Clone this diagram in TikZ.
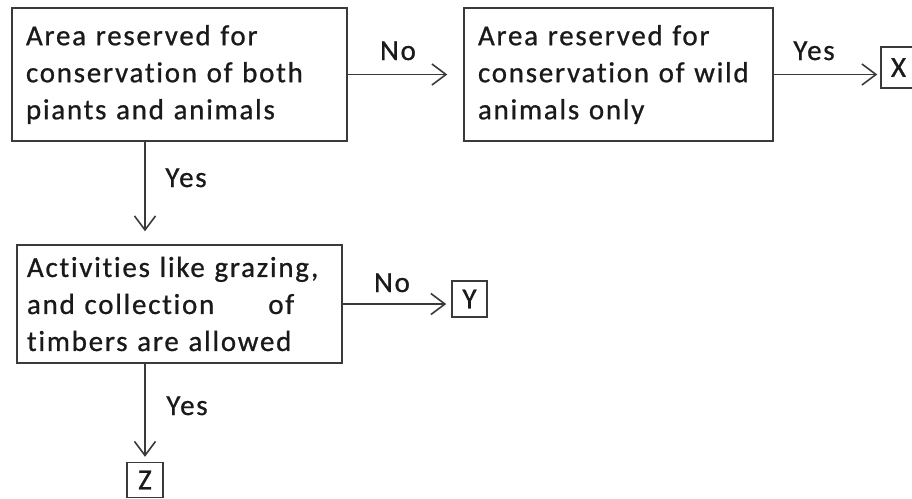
\documentclass[tikz,border=0pt]{standalone}
\usepackage{fontspec}
\setmainfont{Carlito}[LetterSpace=6, FakeBold=0.8, Ligatures=NoCommon]
\usetikzlibrary{arrows.meta}
\definecolor{ln}{HTML}{3A3A3A}
\definecolor{tx}{HTML}{1A1A1A}
\tikzset{
  box/.style={draw=ln, line width=1.5pt, text=tx, align=left, anchor=center,
    font=\fontsize{29}{37}\selectfont, inner ysep=0pt},
  letterbox/.style={draw=ln, line width=1.5pt, text=tx, inner sep=0pt,
    font=\fontsize{29}{30}\selectfont},
  lbl/.style={text=tx, anchor=base, inner sep=0pt, font=\fontsize{29}{30}\selectfont},
  arr/.style={draw=ln, line width=1.5pt, -{Straight Barb[length=14pt,width=21pt,line width=1.6pt]}}
}
\begin{document}
\begin{tikzpicture}[x=1pt,y=-1pt]
\useasboundingbox (0,0) rectangle (912,498);
\node[box, minimum width=335pt, minimum height=133pt, inner xsep=14pt, text width=307pt] (A) at (179.5,74.5)
  {Area reserved for\\conservation of both\\piants and animals};
\node[box, minimum width=309pt, minimum height=133pt, inner xsep=14pt, text width=281pt] (B) at (618.5,74.5)
  {Area reserved for\\conservation of wild\\animals only};
\node[box, minimum width=325pt, minimum height=118pt, inner xsep=10pt, text width=305pt] (C) at (179.5,304)
  {Activities like grazing,\\and collection\hspace{54pt}of\\timbers are allowed};
\node[letterbox, minimum width=35pt, minimum height=41pt] (X) at (898.5,67.5) {X};
\node[letterbox, minimum width=35pt, minimum height=36pt] (Y) at (469.5,299) {Y};
\node[letterbox, minimum width=36pt, minimum height=35pt] (Z) at (145,480) {Z};
\draw[arr, shorten >=16pt] (A) -- (B);
\draw[arr, shorten >=3pt] (B.east) -- (B.east -| X.west);
\draw[arr, shorten >=13pt] (A.south -| Z) -- (C.north -| Z);
\draw[arr, shorten >=5pt] (C) -- (C -| Y.west);
\draw[arr, shorten >=5pt] (C.south -| Z) -- (Z.north);
\node[lbl] (l1) at (398,60) {No};
\node[lbl] (l2) at (814,60) {Yes};
\node[lbl] (l3) at (186,187) {Yes};
\node[lbl] (l4) at (392,292) {No};
\node[lbl] (l5) at (187,415) {Yes};
\end{tikzpicture}
\end{document}
